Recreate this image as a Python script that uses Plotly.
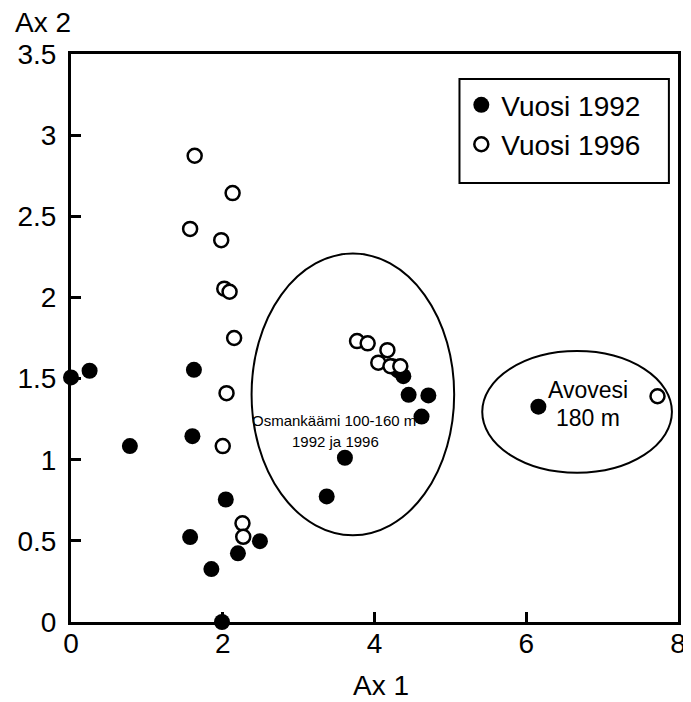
import plotly.graph_objects as go

# Vuosi 1992 (filled)
x1992 = [0.0, 0.245, 0.776, 1.62, 1.60, 1.57, 2.04, 1.85, 2.20, 2.49, 1.99,
         3.37, 3.61, 4.24, 4.31, 4.38, 4.45, 4.71, 4.62, 6.16]
y1992 = [1.507, 1.548, 1.084, 1.554, 1.145, 0.523, 0.755, 0.326, 0.423, 0.498, 0.0,
         0.774, 1.012, 1.576, 1.55, 1.515, 1.40, 1.396, 1.266, 1.327]
# Vuosi 1996 (open)
x1996 = [1.63, 2.13, 1.57, 1.98, 2.02, 2.09, 2.15, 2.05, 2.0, 2.26, 2.27,
         3.77, 3.91, 4.17, 4.05, 4.21, 4.34, 7.73]
y1996 = [2.873, 2.643, 2.422, 2.353, 2.054, 2.035, 1.750, 1.410, 1.084, 0.608, 0.525,
         1.731, 1.717, 1.675, 1.598, 1.576, 1.576, 1.391]

x_ticks = [0, 2, 4, 6, 8]
y_ticks = [0, 0.5, 1, 1.5, 2, 2.5, 3, 3.5]
y_tick_text = ["0", "0.5", "1", "1.5", "2", "2.5", "3", "3.5"]

FONT = "Liberation Sans, Arial, sans-serif"

fig = go.Figure()
fig.add_trace(go.Scatter(
    x=x1992, y=y1992, mode="markers", name="Vuosi 1992",
    marker=dict(size=16, color="black", line=dict(width=0)),
    cliponaxis=False))
fig.add_trace(go.Scatter(
    x=x1996, y=y1996, mode="markers", name="Vuosi 1996",
    marker=dict(size=14, color="white", line=dict(width=2.5, color="black")),
    cliponaxis=False))

# ellipses
fig.add_shape(type="circle", xref="x", yref="y", x0=2.38, x1=5.05, y0=0.535, y1=2.27,
              line=dict(color="black", width=2), layer="below")
fig.add_shape(type="circle", xref="x", yref="y", x0=5.42, x1=7.92, y0=0.92, y1=1.67,
              line=dict(color="black", width=2), layer="below")
# legend box
fig.add_shape(type="rect", xref="paper", yref="paper", x0=0.64, x1=0.985, y0=0.773, y1=0.956,
              line=dict(color="black", width=2), fillcolor="white", layer="below")

fig.add_annotation(x=3.47, y=1.244, text="Osmankäämi 100-160 m", showarrow=False,
                   font=dict(size=15, family=FONT, color="black"))
fig.add_annotation(x=3.49, y=1.11, text="1992 ja 1996", showarrow=False,
                   font=dict(size=15, family=FONT, color="black"))
fig.add_annotation(x=6.82, y=1.43, text="Avovesi", showarrow=False,
                   font=dict(size=23, family=FONT, color="black"))
fig.add_annotation(x=6.81, y=1.257, text="180 m", showarrow=False,
                   font=dict(size=23, family=FONT, color="black"))
fig.add_annotation(xref="paper", yref="paper", x=-0.096, y=1.0546, text="Ax 2",
                   showarrow=False, xanchor="left", yanchor="middle",
                   font=dict(size=28, family=FONT, color="black"))
fig.add_annotation(xref="paper", yref="paper", x=0.51, y=-0.111, text="Ax 1",
                   showarrow=False, xanchor="center", yanchor="middle",
                   font=dict(size=28, family=FONT, color="black"))

# page body has an 8px margin; size the figure so the plot lands where the reference has it
fig.update_layout(
    width=685, height=694,
    margin=dict(l=63, r=15, t=46, b=80),
    plot_bgcolor="white", paper_bgcolor="white",
    font=dict(family=FONT, color="black", size=28),
    showlegend=True,
    legend=dict(x=0.643, y=0.954, xanchor="left", yanchor="top",
                bgcolor="rgba(0,0,0,0)", borderwidth=0,
                font=dict(size=28, family=FONT, color="black"),
                itemsizing="trace", tracegroupgap=0),
)
fig.update_xaxes(range=[0, 8], tickvals=x_ticks, ticks="inside", ticklen=10, tickwidth=2.5,
                 tickcolor="black", showline=True, linecolor="black", linewidth=3, mirror=True,
                 showgrid=False, zeroline=False, automargin=False,
                 tickfont=dict(size=28, family=FONT), ticklabelstandoff=-6,
                 ticklabeloverflow="allow")
fig.update_yaxes(range=[0, 3.5], tickvals=y_ticks, ticktext=y_tick_text, ticks="inside",
                 ticklen=10, tickwidth=2.5, tickcolor="black", showline=True, linecolor="black",
                 linewidth=3, mirror=True, showgrid=False, zeroline=False, automargin=False,
                 tickfont=dict(size=28, family=FONT), ticklabelstandoff=6,
                 ticklabeloverflow="allow")

fig.write_html("out.html")
